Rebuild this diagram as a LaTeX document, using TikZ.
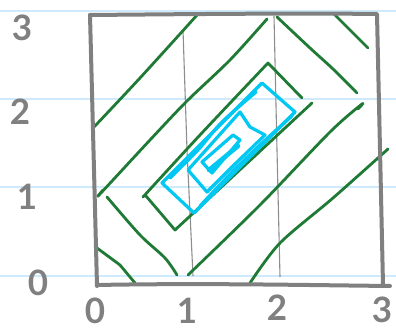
\documentclass[tikz,border=0pt]{standalone}
\usepackage{fontspec}
\setmainfont{Lato}
\definecolor{paper}{HTML}{CDEBFC}
\definecolor{frame}{HTML}{808080}
\definecolor{contour}{HTML}{1E7A35}
\definecolor{inner}{HTML}{00C8F2}
\tikzset{
  paperline/.style={draw=paper, line width=1.6pt},
  framebox/.style={draw=frame, line width=4pt, line cap=round, line join=round},
  gridline/.style={draw=frame!90, line width=1.1pt},
  contourline/.style={draw=contour, line width=2.8pt, line cap=round, line join=round},
  levelbox/.style={draw=inner, line width=3.2pt, line cap=round, line join=round},
  ticklabel/.style={text=frame, font=\fontsize{35}{35}\selectfont\bfseries, inner sep=0pt}
}
\begin{document}
\begin{tikzpicture}[x=1pt,y=-1pt]
\useasboundingbox (0,0) rectangle (396,331);
% notebook lines
\foreach \yy in {11,99,187,276} \draw[paperline] (0,\yy) -- (396,\yy);
% thin vertical grid lines
\draw[gridline] (183,30) -- (187,150) -- (193,276);
\draw[gridline] (274,16) -- (277,150) -- (280,277);
% green contour lines
\draw[contourline] plot[smooth] coordinates {(94,127) (140,78) (198,14)};
\draw[contourline] plot[smooth] coordinates {(103,190) (100,194) (150,140) (187,101) (230,60) (267,19)};
\draw[contourline] plot[smooth] coordinates {(277,17) (310,48) (333,69) (357,93)};
\draw[contourline] (333,13) -- (368,48);
\draw[contourline] plot[smooth] coordinates {(143,197) (200,135) (268,63)} -- (302,98);
\draw[contourline] (146,196) -- (175,230) -- (312,103);
\draw[contourline] plot[smooth] coordinates {(107,197) (140,235) (165,258) (177,275)};
\draw[contourline] plot[smooth] coordinates {(188,275) (260,205) (330,132) (362,104) (358,109)};
\draw[contourline] (97,248) -- (120,265) -- (135,283);
\draw[contourline] plot[smooth] coordinates {(250,283) (280,243) (333,198) (388,149)};
% cyan level sets
\draw[levelbox] (162,183) -- (262,83) -- (279,98) -- (295,112) -- (245,162) -- (194,213) -- cycle;
\draw[levelbox] plot[smooth, tension=0.5] coordinates {(170,178) (198,150) (222,122) (256,92)};
\draw[levelbox] plot[smooth, tension=0.5] coordinates {(200,206) (232,172) (262,143) (292,116)};
\draw[levelbox] (188,170) -- (240,112) -- (250,127) -- (265,135) -- (236,163) -- (207,192) -- cycle;
\draw[levelbox] (202,162) -- (233,135) -- (240,140) -- (212,173) -- cycle;
\draw[levelbox, line width=4.5pt] (209,170) -- (238,146);
% frame
\draw[framebox] (90,15) .. controls (200,14) and (300,13) .. (377,14) -- (383,285);
\draw[framebox] (90,15) -- (97,286);
\draw[framebox] (97,285) .. controls (200,283) and (300,285) .. (390,286);
% tick labels
\node[ticklabel] (y3) at (22,28) {3};
\node[ticklabel] (y2) at (20,112) {2};
\node[ticklabel] (y1) at (27,197) {1};
\node[ticklabel] (y0) at (38,283) {0};
\node[ticklabel] (x0) at (95,311) {0};
\node[ticklabel] (x1) at (187,311) {1};
\node[ticklabel] (x2) at (277,308) {2};
\node[ticklabel] (x3) at (382,310) {3};
\end{tikzpicture}
\end{document}
